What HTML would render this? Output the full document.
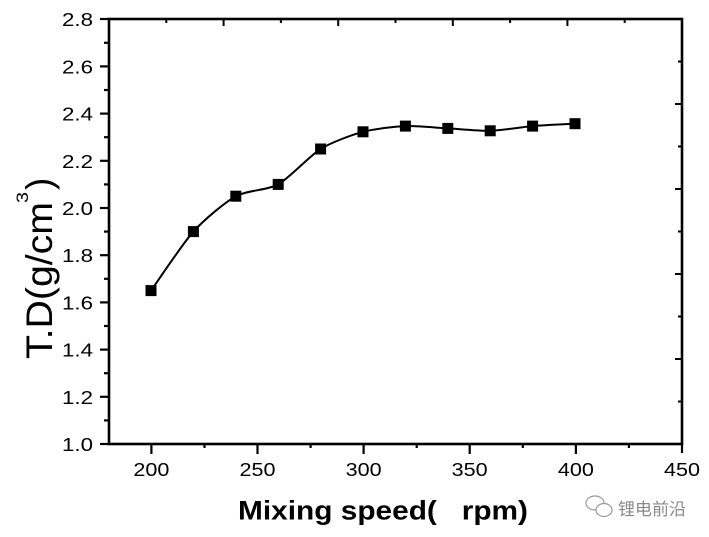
<!DOCTYPE html>
<html>
<head>
<meta charset="utf-8">
<style>
  html, body { margin: 0; padding: 0; background: #fff; }
  body { width: 709px; height: 537px; overflow: hidden; }
  svg { display: block; }
  text { font-family: "Liberation Sans", Arial, sans-serif; fill: #000; }
</style>
</head>
<body>
<svg width="709" height="537" viewBox="0 0 709 537" xmlns="http://www.w3.org/2000/svg">
  <rect x="0" y="0" width="709" height="537" fill="#fff"/>

  <!-- frame -->
  <rect x="109" y="19" width="573" height="425" fill="none" stroke="#000" stroke-width="2.6"/>

  <!-- left axis ticks (outward) -->
  <g stroke="#000" stroke-width="2.2">
    <line x1="100" y1="444" x2="109" y2="444"/>
    <line x1="104" y1="420.4" x2="109" y2="420.4"/>
    <line x1="100" y1="396.8" x2="109" y2="396.8"/>
    <line x1="104" y1="373.2" x2="109" y2="373.2"/>
    <line x1="100" y1="349.6" x2="109" y2="349.6"/>
    <line x1="104" y1="326.0" x2="109" y2="326.0"/>
    <line x1="100" y1="302.4" x2="109" y2="302.4"/>
    <line x1="104" y1="278.8" x2="109" y2="278.8"/>
    <line x1="100" y1="255.2" x2="109" y2="255.2"/>
    <line x1="104" y1="231.6" x2="109" y2="231.6"/>
    <line x1="100" y1="208.0" x2="109" y2="208.0"/>
    <line x1="104" y1="184.4" x2="109" y2="184.4"/>
    <line x1="100" y1="160.8" x2="109" y2="160.8"/>
    <line x1="104" y1="137.2" x2="109" y2="137.2"/>
    <line x1="100" y1="113.6" x2="109" y2="113.6"/>
    <line x1="104" y1="90.0" x2="109" y2="90.0"/>
    <line x1="100" y1="66.4" x2="109" y2="66.4"/>
    <line x1="104" y1="42.8" x2="109" y2="42.8"/>
    <line x1="100" y1="19" x2="109" y2="19"/>
  </g>

  <!-- bottom axis ticks (outward) -->
  <g stroke="#000" stroke-width="2.2">
    <line x1="151.4" y1="444" x2="151.4" y2="454"/>
    <line x1="204.5" y1="444" x2="204.5" y2="448"/>
    <line x1="257.5" y1="444" x2="257.5" y2="454"/>
    <line x1="310.6" y1="444" x2="310.6" y2="448"/>
    <line x1="363.6" y1="444" x2="363.6" y2="454"/>
    <line x1="416.7" y1="444" x2="416.7" y2="448"/>
    <line x1="469.7" y1="444" x2="469.7" y2="454"/>
    <line x1="522.8" y1="444" x2="522.8" y2="448"/>
    <line x1="575.9" y1="444" x2="575.9" y2="454"/>
    <line x1="628.9" y1="444" x2="628.9" y2="448"/>
    <line x1="682" y1="444" x2="682" y2="453"/>
  </g>

  <!-- top axis ticks (inward) -->
  <g stroke="#000" stroke-width="2">
    <line x1="166.3" y1="19" x2="166.3" y2="23"/>
    <line x1="223.6" y1="19" x2="223.6" y2="26"/>
    <line x1="280.9" y1="19" x2="280.9" y2="23"/>
    <line x1="338.2" y1="19" x2="338.2" y2="26"/>
    <line x1="395.5" y1="19" x2="395.5" y2="23"/>
    <line x1="452.8" y1="19" x2="452.8" y2="26"/>
    <line x1="510.1" y1="19" x2="510.1" y2="23"/>
    <line x1="567.4" y1="19" x2="567.4" y2="26"/>
    <line x1="624.7" y1="19" x2="624.7" y2="23"/>
  </g>

  <!-- right axis ticks (inward) -->
  <g stroke="#000" stroke-width="2">
    <line x1="678" y1="61.5" x2="682" y2="61.5"/>
    <line x1="675" y1="104" x2="682" y2="104"/>
    <line x1="678" y1="146.5" x2="682" y2="146.5"/>
    <line x1="675" y1="189" x2="682" y2="189"/>
    <line x1="678" y1="231.5" x2="682" y2="231.5"/>
    <line x1="675" y1="274" x2="682" y2="274"/>
    <line x1="678" y1="316.5" x2="682" y2="316.5"/>
    <line x1="675" y1="359" x2="682" y2="359"/>
    <line x1="678" y1="401.5" x2="682" y2="401.5"/>
  </g>

  <!-- y tick labels -->
  <g font-size="18">
    <text x="62" y="451" textLength="31" lengthAdjust="spacingAndGlyphs">1.0</text>
    <text x="62" y="403.8" textLength="31" lengthAdjust="spacingAndGlyphs">1.2</text>
    <text x="62" y="356.6" textLength="31" lengthAdjust="spacingAndGlyphs">1.4</text>
    <text x="62" y="309.4" textLength="31" lengthAdjust="spacingAndGlyphs">1.6</text>
    <text x="62" y="262.2" textLength="31" lengthAdjust="spacingAndGlyphs">1.8</text>
    <text x="62" y="215" textLength="31" lengthAdjust="spacingAndGlyphs">2.0</text>
    <text x="62" y="167.8" textLength="31" lengthAdjust="spacingAndGlyphs">2.2</text>
    <text x="62" y="120.6" textLength="31" lengthAdjust="spacingAndGlyphs">2.4</text>
    <text x="62" y="73.4" textLength="31" lengthAdjust="spacingAndGlyphs">2.6</text>
    <text x="62" y="26.2" textLength="31" lengthAdjust="spacingAndGlyphs">2.8</text>
  </g>

  <!-- x tick labels -->
  <g font-size="18">
    <text x="133.4" y="476" textLength="36" lengthAdjust="spacingAndGlyphs">200</text>
    <text x="239.5" y="476" textLength="36" lengthAdjust="spacingAndGlyphs">250</text>
    <text x="345.6" y="476" textLength="36" lengthAdjust="spacingAndGlyphs">300</text>
    <text x="451.7" y="476" textLength="36" lengthAdjust="spacingAndGlyphs">350</text>
    <text x="557.9" y="476" textLength="36" lengthAdjust="spacingAndGlyphs">400</text>
    <text x="664" y="476" textLength="36" lengthAdjust="spacingAndGlyphs">450</text>
  </g>

  <!-- axis titles -->
  <text x="238" y="519.5" font-size="27" font-weight="bold" textLength="290" lengthAdjust="spacingAndGlyphs" xml:space="preserve">Mixing speed(   rpm)</text>

  <g transform="translate(52,359) rotate(-90)">
    <text x="0" y="0" font-size="37" textLength="157" lengthAdjust="spacingAndGlyphs">T.D(g/cm</text>
  </g>
  <g transform="translate(28,203) rotate(-90)">
    <text x="0" y="0" font-size="17" textLength="11" lengthAdjust="spacingAndGlyphs">3</text>
  </g>
  <g transform="translate(52,190) rotate(-90)">
    <text x="0" y="0" font-size="37">)</text>
  </g>

  <!-- curve -->
  <path d="M151,290.6
           C156.3,283.23 182.8,243.4 193.4,231.6
           C204,219.8 225.2,202.1 235.8,196.2
           C246.4,190.3 267.6,190.3 278.2,184.4
           C288.8,178.5 310,155.58 320.6,149
           C331.2,142.42 352.4,134.66 363,131.8
           C373.6,128.94 394.8,126.53 405.4,126.1
           C416,125.67 437.2,127.81 447.8,128.4
           C458.4,128.99 479.6,131.09 490.2,130.8
           C500.8,130.51 522,126.99 532.6,126.1
           C543.2,125.21 569.7,124 575,123.7"
        fill="none" stroke="#000" stroke-width="2"/>

  <!-- markers -->
  <g fill="#000">
    <rect x="145.5" y="285.1" width="11" height="11"/>
    <rect x="187.9" y="226.1" width="11" height="11"/>
    <rect x="230.3" y="190.7" width="11" height="11"/>
    <rect x="272.7" y="178.9" width="11" height="11"/>
    <rect x="315.1" y="143.5" width="11" height="11"/>
    <rect x="357.5" y="126.3" width="11" height="11"/>
    <rect x="399.9" y="120.6" width="11" height="11"/>
    <rect x="442.3" y="122.9" width="11" height="11"/>
    <rect x="484.7" y="125.3" width="11" height="11"/>
    <rect x="527.1" y="120.6" width="11" height="11"/>
    <rect x="569.5" y="118.2" width="11" height="11"/>
  </g>

  <!-- watermark -->
  <g fill="none" stroke="#9a9a9a" stroke-width="1.2">
    <ellipse cx="595" cy="503" rx="9" ry="7"/>
    <ellipse cx="604" cy="510" rx="8" ry="6.5" fill="#fff"/>
  </g>
  <text x="618" y="515" font-size="17" style="fill:#8a8a8a; font-family: 'Liberation Sans', 'Noto Sans CJK SC', sans-serif;">锂电前沿</text>
</svg>
</body>
</html>
